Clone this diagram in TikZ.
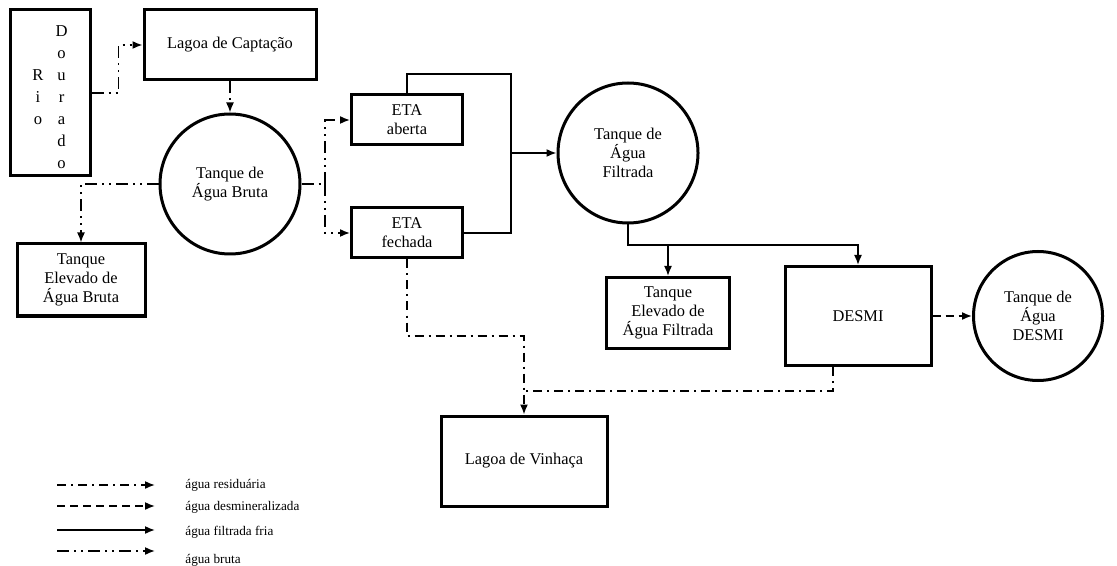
\documentclass[tikz,border=0pt]{standalone}
\usepackage{fontspec}
\setmainfont{Liberation Serif}
\usepackage{tikz}
\usetikzlibrary{arrows.meta, positioning, calc}

\begin{document}
\begin{tikzpicture}[
    x=0.5pt, y=-0.5pt,
    box/.style={rectangle, draw=black, line width=1.5pt, align=center, inner sep=1pt, font=\fontsize{8.2}{9.6}\selectfont},
    tank/.style={circle, draw=black, line width=1.5pt, align=center, inner sep=0pt, font=\fontsize{8.2}{9.6}\selectfont},
    pipe/.style={line width=0.8pt, black},
    filt/.style={pipe},
    bruta/.style={pipe, dash pattern=on 6pt off 2.5pt on 1pt off 2.5pt on 1pt off 2.5pt},
    resid/.style={pipe, dash pattern=on 4.5pt off 2.5pt on 1pt off 2.5pt},
    desmin/.style={pipe, dash pattern=on 4pt off 2.5pt},
    arrow/.style={-{Latex[length=5pt,width=4pt]}},
    legtext/.style={anchor=west, inner sep=0pt, font=\fontsize{6.6}{8}\selectfont}
]
    \useasboundingbox (0,0) rectangle (1117,566);

    % Captacao
    \node (rio) [box, minimum width=40pt, minimum height=83pt] at (50,93) {\raisebox{-2.5pt}[\height][\depth]{\fontsize{8.3}{11}\selectfont\begin{tabular}{@{}c@{\hspace{6pt}}c@{}} & D\\ & o\\ R & u\\ i & r\\ o & a\\ & d\\ & o\end{tabular}}};
    \node (lagoa) [box, minimum width=86pt, minimum height=35pt] at (230,45) {Lagoa de Captação};
    \node (tqbruta) [tank, minimum size=70pt] at (230,184) {Tanque de\\Água Bruta};
    \node (elevbruta) [box, minimum width=64pt, minimum height=36pt] at (81,280) {Tanque\\Elevado de\\Água Bruta};

    % Tratamento
    \node (etaab) [box, minimum width=55.5pt, minimum height=25pt] at (407,120) {ETA\\aberta};
    \node (etafe) [box, minimum width=55.5pt, minimum height=25pt] at (407,233) {ETA\\fechada};
    \node (tqfilt) [tank, minimum size=70pt] at (628,153) {Tanque de\\Água\\Filtrada};
    \node (elevfilt) [box, minimum width=61.5pt, minimum height=35.5pt] at (668,313) {Tanque\\Elevado de\\Água Filtrada};
    \node (desmi) [box, minimum width=73pt, minimum height=49.5pt] at (858,316) {DESMI};
    \node (tqdesmi) [tank, minimum size=64.5pt] at (1038,316) {Tanque de\\Água\\DESMI};
    \node (vinhaca) [box, minimum width=83pt, minimum height=45pt] at (524,461) {Lagoa de Vinhaça};

    % Pontos de juncao
    \coordinate (split) at (325,184);
    \coordinate (jtop) at (511,74);
    \coordinate (join) at (511,153);
    \coordinate (fsplit) at (628,245);
    \coordinate (vcorner) at (524,336);
    \coordinate (vjoin) at (524,391);

    % Agua bruta
    \draw [bruta, arrow] (rio.east) -- ++(27,0) |- (lagoa.west);
    \draw [bruta, arrow] (lagoa.south) -- (tqbruta.north);
    \draw [bruta, arrow] (tqbruta.west) -| (elevbruta.north);
    \draw [bruta] (tqbruta.east) -- (split);
    \draw [bruta, arrow] (split) |- (etaab.west);
    \draw [bruta, arrow] (split) |- (etafe.west);

    % Agua filtrada
    \draw [filt] (etaab.north) |- (jtop) -- (join);
    \draw [filt] (etafe.east) -| (join);
    \draw [filt, arrow] (join) -- (tqfilt.west);
    \draw [filt, arrow] (tqfilt.south) -- (fsplit) -| (desmi.north);
    \draw [filt, arrow] (elevfilt.north |- fsplit) -- (elevfilt.north);

    % Agua desmineralizada
    \draw [desmin, arrow] (desmi.east) -- (tqdesmi.west);

    % Agua residuaria
    \draw [resid, arrow] (etafe.south) |- (vcorner) -- (vinhaca.north);
    \draw [resid] ([xshift=-12.5pt]desmi.south) |- (vjoin);

    % Legenda
    \foreach \i/\y/\sty/\ty/\txt in {1/485/resid/485/água residuária, 2/506/desmin/507/água desmineralizada, 3/530/filt/532/água filtrada fria, 4/551/bruta/560/água bruta} {
        \coordinate (leg\i a) at (57,\y);
        \coordinate (leg\i b) at (155,\y);
        \draw [\sty, arrow] (leg\i a) -- (leg\i b);
        \node (leg\i) [legtext] at (185,\ty) {\txt};
    }
\end{tikzpicture}
\end{document}
